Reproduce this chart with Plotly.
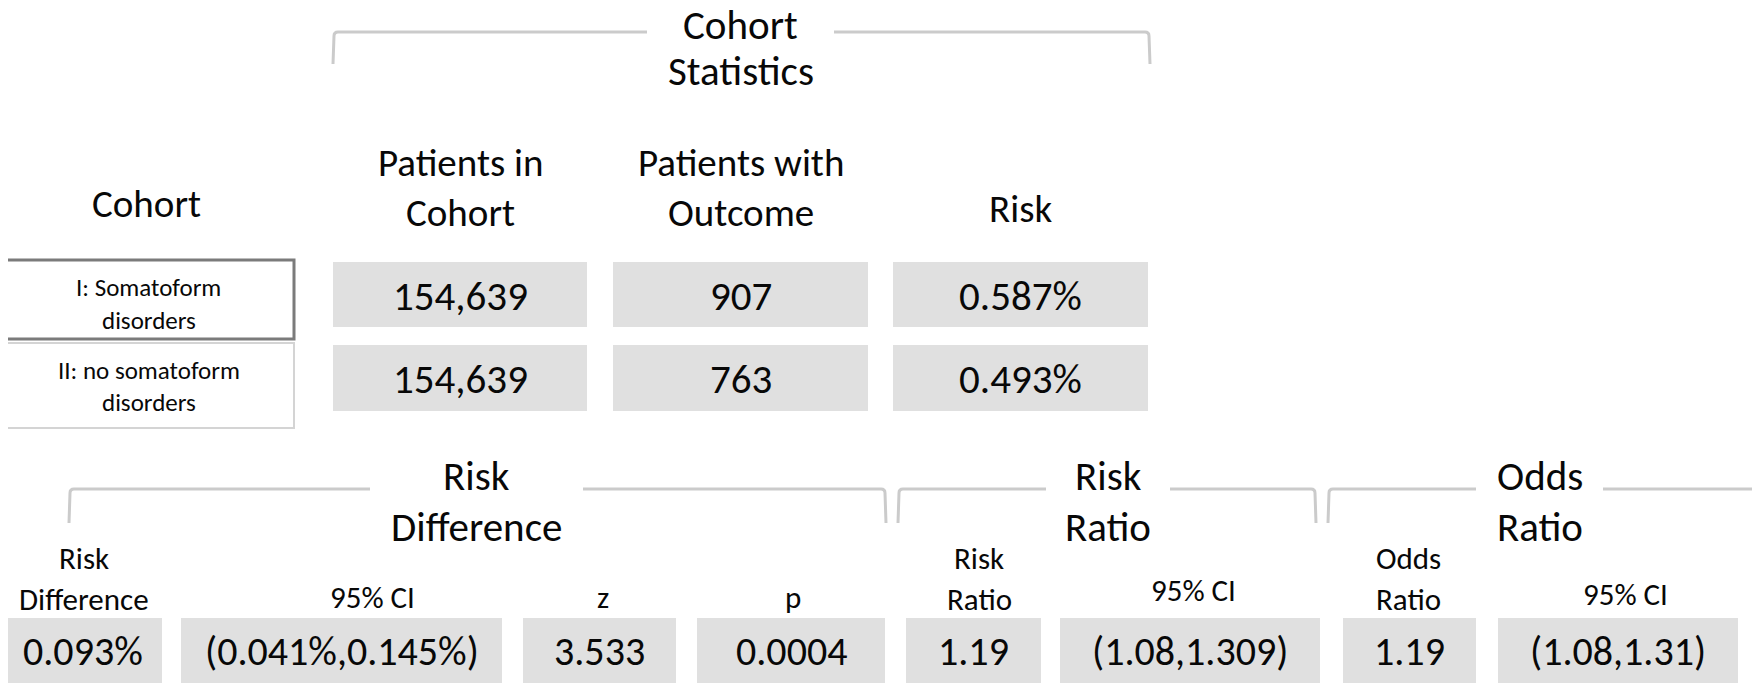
import plotly.graph_objects as go

# ---- data ----
cohort_names = ["I: Somatoform\ndisorders", "II: no somatoform\ndisorders"]
patients_in_cohort = [154639, 154639]
patients_with_outcome = [907, 763]
risk_pct = [0.587, 0.493]

risk_difference_pct = 0.093
risk_difference_ci = (0.041, 0.145)
z_value = 3.533
p_value = "0.0004"
risk_ratio = 1.19
risk_ratio_ci = (1.08, 1.309)
odds_ratio = 1.19
odds_ratio_ci = (1.08, 1.31)

top_headers = ["Patients in\nCohort", "Patients with\nOutcome", "Risk"]
bottom_headers = ["Risk\nDifference", "95% CI", "z", "p", "Risk\nRatio", "95% CI", "Odds\nRatio", "95% CI"]
groups = ["Cohort\nStatistics", "Risk\nDifference", "Risk\nRatio", "Odds\nRatio"]

# ---- layout (pixels) ----
W, H = 1760, 687
OFF = 8  # page body margin, shift so the picture lands at the window origin
FONT = "Carlito, Calibri, Lato, sans-serif"
INK = "#080808"
CELL = "#e0e0e0"
RULE = "#cbcbcb"

top_x = [(333, 587), (613, 868), (893, 1148)]
top_y = [(262, 327), (345, 411)]
top_head_y = {1: [208], 2: [162, 212]}
bot_x = [(4, 162), (181, 502), (523, 676), (697, 885), (906, 1041), (1060, 1320), (1343, 1476), (1498, 1738)]
bot_head_x = [84, 372, 603, 793, 979, 1193, 1408, 1625]
bot_head_y = {1: [597], 2: [558, 599]}
bot_y = (618, 683)
brackets = [  # x0, x1, y, ytick, gap0, gap1
    (333, 1150, 32, 64, 647, 834),
    (69, 886, 489, 523, 370, 583),
    (898, 1316, 489, 523, 1046, 1170),
    (1328, 1757, 489, 523, 1476, 1603),
]
group_y = [(25, 71), (476, 527), (476, 527), (476, 527)]

shapes = []
ann = []


def text(x, y, s, size):
    ann.append(dict(x=x, y=y, text=s, showarrow=False, xref="x", yref="y",
                    xanchor="center", yanchor="middle",
                    font=dict(family=FONT, size=size, color=INK)))


def cell(x0, x1, y0, y1, s, size=41):
    shapes.append(dict(type="rect", x0=x0, x1=x1, y0=y0, y1=y1, xref="x", yref="y",
                       fillcolor=CELL, line=dict(width=0), layer="below"))
    text((x0 + x1) / 2, (y0 + y1) / 2 + 1, s, size)


# group brackets
for (x0, x1, y, yt, g0, g1), label, (ya, yb) in zip(brackets, groups, group_y):
    ln = dict(color=RULE, width=3)
    path = f"M{x0},{yt} L{x0 + 1},{y + 4} Q{x0 + 1},{y} {x0 + 5},{y} L{g0},{y}"
    shapes.append(dict(type="path", path=path, xref="x", yref="y", line=ln))
    path = f"M{g1},{y} L{x1 - 5},{y} Q{x1 - 1},{y} {x1 - 1},{y + 4} L{x1},{yt}"
    shapes.append(dict(type="path", path=path, xref="x", yref="y", line=ln))
    a, b = label.split("\n")
    text((g0 + g1) / 2, ya, a, 41)
    text((g0 + g1) / 2, yb, b, 41)

# top table headers
text(146, 203, "Cohort", 39)
for (x0, x1), h in zip(top_x, top_headers):
    lines = h.split("\n")
    for s, yy in zip(lines, top_head_y[len(lines)]):
        text((x0 + x1) / 2, yy, s, 39)

# cohort label boxes
label_boxes = [((3, 294, 260, 339), "#7b7b7b", 3, (287, 320)),
               ((3, 294, 343, 428), "#d4d4d4", 2, (370, 402))]
for name, ((x0, x1, y0, y1), col, w, ys) in zip(cohort_names, label_boxes):
    shapes.append(dict(type="rect", x0=x0, x1=x1, y0=y0, y1=y1, xref="x", yref="y",
                       line=dict(color=col, width=w), fillcolor="white"))
    for s, yy in zip(name.split("\n"), ys):
        text((x0 + x1) / 2, yy, s, 25)

# top values
for i, (y0, y1) in enumerate(top_y):
    vals = [f"{patients_in_cohort[i]:,}", f"{patients_with_outcome[i]}", f"{risk_pct[i]:.3f}%"]
    for (x0, x1), v in zip(top_x, vals):
        cell(x0, x1, y0, y1, v)

# bottom headers and values
bot_vals = [
    f"{risk_difference_pct:.3f}%",
    f"({risk_difference_ci[0]:.3f}%,{risk_difference_ci[1]:.3f}%)",
    f"{z_value:.3f}",
    p_value,
    f"{risk_ratio}",
    f"({risk_ratio_ci[0]},{risk_ratio_ci[1]})",
    f"{odds_ratio}",
    f"({odds_ratio_ci[0]},{odds_ratio_ci[1]})",
]
for (x0, x1), hx, h, v in zip(bot_x, bot_head_x, bottom_headers, bot_vals):
    lines = h.split("\n")
    ys = bot_head_y[len(lines)]
    if h == "95% CI" and x0 > 1000:
        ys = [590] if x0 < 1400 else [594]
    for s, yy in zip(lines, ys):
        text(hx, yy, s, 31)
    cell(x0, x1, bot_y[0], bot_y[1], v, 40)

fig = go.Figure()
fig.update_layout(
    width=W, height=H,
    margin=dict(l=0, r=0, t=0, b=0),
    paper_bgcolor="white", plot_bgcolor="white",
    xaxis=dict(range=[OFF, W + OFF], visible=False, fixedrange=True),
    yaxis=dict(range=[H + OFF, OFF], visible=False, fixedrange=True),
    shapes=shapes, annotations=ann, showlegend=False,
)
fig.write_html("out.html")
